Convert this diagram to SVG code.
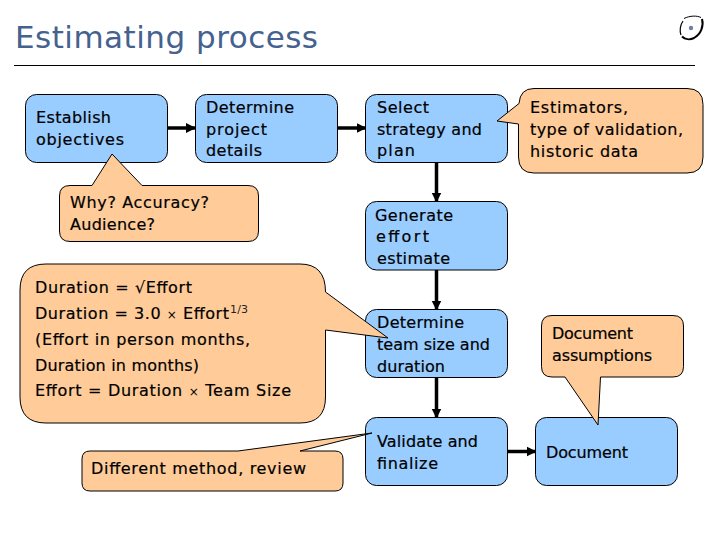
<svg xmlns="http://www.w3.org/2000/svg" width="720" height="540" viewBox="0 0 720 540">
<style>
text{font-family:"DejaVu Sans","Liberation Sans",sans-serif;font-size:16px;fill:#000;stroke:#000;stroke-width:.2}
.title{font-size:31px;fill:#45628f;stroke:none}
.box{fill:#99ccff;stroke:#000;stroke-width:1}
.call{fill:#ffcc99;stroke:#000;stroke-width:1;stroke-linejoin:miter}
.conn{fill:none;stroke:#000;stroke-width:3.5;marker-end:url(#arrow)}
.sup{font-size:11px;stroke:none;fill:#222}
.sym{font-size:12px;stroke:none}
</style>
<defs>
<marker id="arrow" markerUnits="userSpaceOnUse" markerWidth="10" markerHeight="12" refX="9" refY="5" orient="auto" viewBox="0 0 10 10">
<path d="M0 0L10 5L0 10Z" fill="#000"/>
</marker>
</defs>
<rect width="720" height="540" fill="#fff"/>
<g id="header">
<text class="title" x="15" y="48" textLength="303" lengthAdjust="spacing">Estimating process</text>
<line x1="14" y1="65.5" x2="695" y2="65.5" stroke="#000" stroke-width="1"/>
</g>
<g id="logo">
<path d="M683 21C680 25 679.500 31 681 35" fill="none" stroke="#000" stroke-width="1.200"/>
<path d="M684 18.500C690 15.500 697 15.500 701 17.500" fill="none" stroke="#000" stroke-width="1"/>
<path d="M702 19C704 26 701 34 694 38C690 40 685 39.500 682 36.500" fill="none" stroke="#000" stroke-width="2"/>
<circle cx="691" cy="28" r="2.200" fill="#6f7fa8"/>
</g>
<g id="connectors">
<line class="conn" x1="167.500" y1="128" x2="195" y2="128"/>
<line class="conn" x1="337.500" y1="128" x2="365.500" y2="128"/>
<line class="conn" x1="436.500" y1="162.500" x2="436.500" y2="201.500"/>
<line class="conn" x1="436.500" y1="270" x2="436.500" y2="309.500"/>
<line class="conn" x1="436.500" y1="377.500" x2="436.500" y2="417.500"/>
<line class="conn" x1="507.500" y1="451.500" x2="535.500" y2="451.500"/>
</g>
<g id="establish">
<rect class="box" x="25.500" y="94.500" width="142" height="68" rx="11"/>
<text x="36" y="123" textLength="75">Establish</text>
<text x="36" y="145" textLength="88">objectives</text>
</g>
<g id="details">
<rect class="box" x="195.500" y="94.500" width="142" height="68" rx="11"/>
<text x="206" y="113" textLength="88">Determine</text>
<text x="206" y="135" textLength="61">project</text>
<text x="206" y="156" textLength="56">details</text>
</g>
<g id="strategy">
<rect class="box" x="365.500" y="94.500" width="142" height="68" rx="11"/>
<text x="377" y="113" textLength="52">Select</text>
<text x="377" y="135" textLength="105">strategy and</text>
<text x="377" y="156" textLength="38">plan</text>
</g>
<g id="generate">
<rect class="box" x="365.500" y="201.500" width="142" height="68.500" rx="11"/>
<text x="375" y="221" textLength="78">Generate</text>
<text x="376" y="242" textLength="53">effort</text>
<text x="377" y="264" textLength="73">estimate</text>
</g>
<g id="team">
<rect class="box" x="365.500" y="309.500" width="142" height="68" rx="11"/>
<text x="377" y="328" textLength="87">Determine</text>
<text x="377" y="350" textLength="113">team size and</text>
<text x="377" y="372" textLength="68">duration</text>
</g>
<g id="validate">
<rect class="box" x="365.500" y="417.500" width="142" height="68" rx="11"/>
<text x="377" y="447" textLength="101">Validate and</text>
<text x="377" y="469" textLength="61">finalize</text>
</g>
<g id="document">
<rect class="box" x="535.500" y="417.500" width="142" height="68" rx="11"/>
<text x="546" y="458" textLength="82">Document</text>
</g>
<g id="why">
<path class="call" d="M70 185.500H92L112 154L142 185.500H248Q258.500 185.500 258.500 196V231Q258.500 241.500 248 241.500H70Q59.500 241.500 59.500 231V196Q59.500 185.500 70 185.500Z"/>
<text x="70" y="208" textLength="139">Why? Accuracy?</text>
<text x="70" y="230" textLength="85">Audience?</text>
</g>
<g id="estimators">
<path class="call" d="M534 88.500H687Q703 88.500 703 104.500V157Q703 173 687 173H534Q518.500 173 518.500 157V124L497 121L519 103.500Q520 88.500 534 88.500Z"/>
<text x="530" y="113" textLength="98">Estimators,</text>
<text x="530" y="135" textLength="153">type of validation,</text>
<text x="530" y="157" textLength="108">historic data</text>
</g>
<g id="duration">
<path class="call" d="M46 264H300Q325.500 264 325.500 292L388 338L325.500 330V397Q325.500 423 300 423H46Q20 423 20 397V290Q20 264 46 264Z"/>
<text x="35" y="293" textLength="157">Duration = √Effort</text>
<text x="35" y="319" textLength="194">Duration = 3.0 <tspan class="sym">×</tspan> Effort</text>
<text class="sup" x="230" y="313" textLength="18">1/3</text>
<text x="35" y="345" textLength="215">(Effort in person months,</text>
<text x="35" y="371" textLength="164">Duration in months)</text>
<text x="35" y="396" textLength="256">Effort = Duration <tspan class="sym">×</tspan> Team Size</text>
</g>
<g id="method">
<path class="call" d="M90 451H238L372 433L300 451H335Q343 451 343 459V483Q343 491 335 491H90Q82 491 82 483V459Q82 451 90 451Z"/>
<text x="91" y="474" textLength="215">Different method, review</text>
</g>
<g id="assumptions">
<path class="call" d="M552 315.500H673Q683.500 315.500 683.500 326V366.500Q683.500 377 673 377H600.500L598 425L565 377H552Q541.500 377 541.500 366.500V326Q541.500 315.500 552 315.500Z"/>
<text x="552" y="339" textLength="81">Document</text>
<text x="552" y="361" textLength="100">assumptions</text>
</g>
</svg>
